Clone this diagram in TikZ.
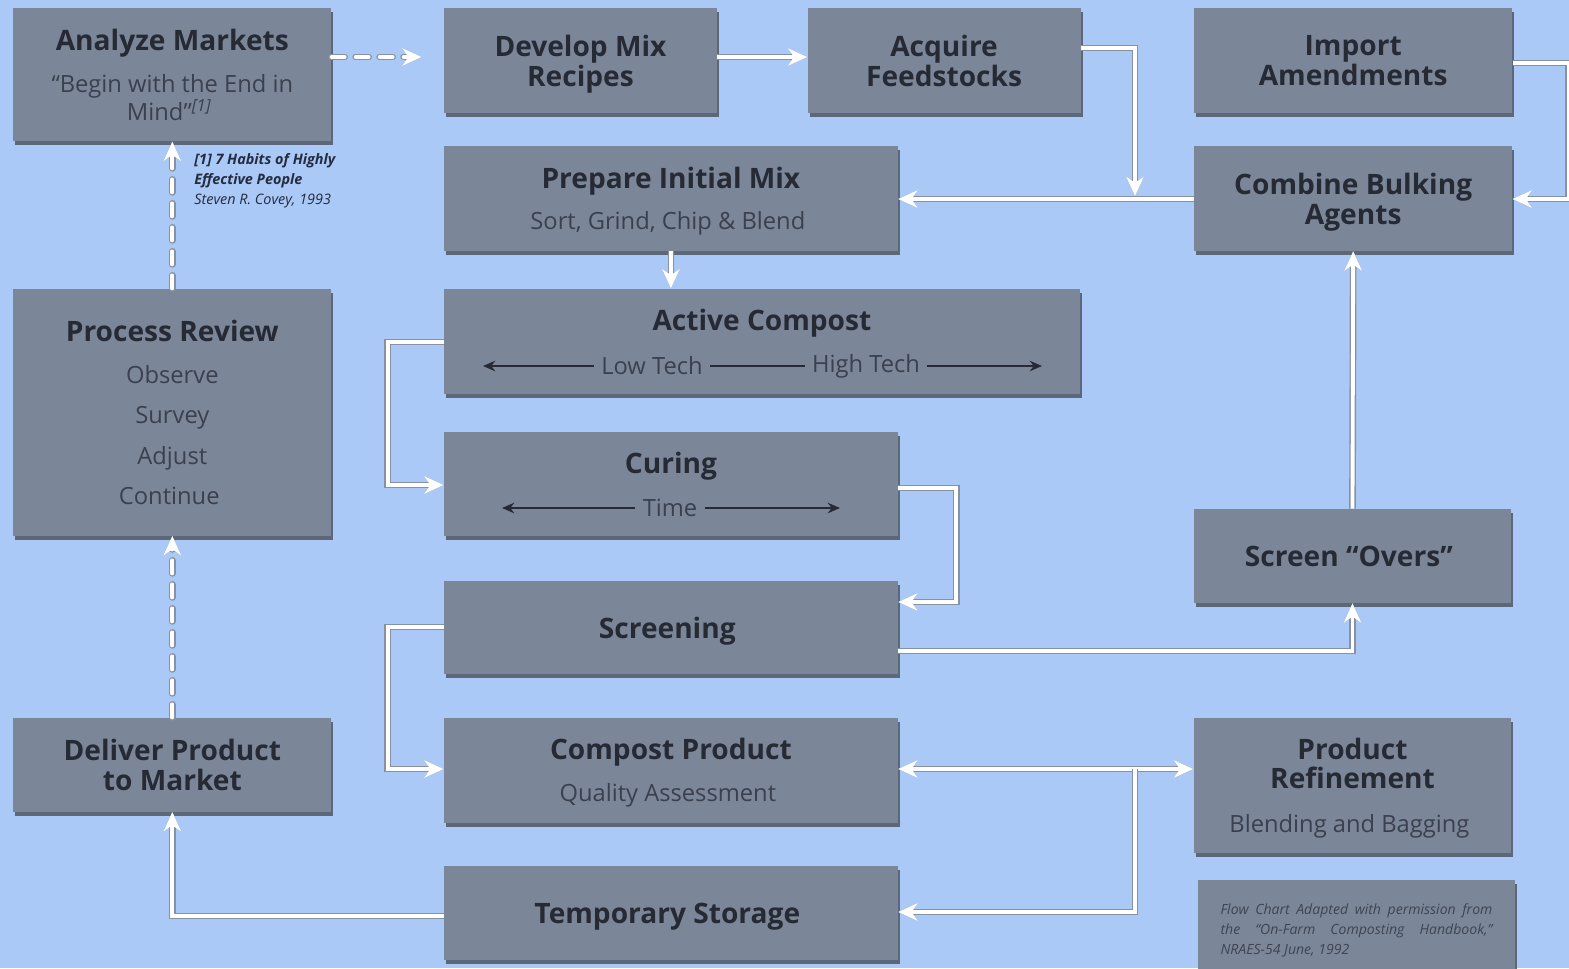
\documentclass[tikz,border=0pt]{standalone}
\usepackage{fontspec}
\setmainfont{Open Sans}
\usetikzlibrary{positioning, arrows.meta, shadows}

\definecolor{bgblue}{RGB}{171,201,246}
\definecolor{boxfill}{RGB}{123,135,153}
\definecolor{boxedge}{RGB}{92,103,121}
\definecolor{titlecol}{RGB}{38,42,52}
\definecolor{subcol}{RGB}{58,64,78}
\definecolor{linegray}{RGB}{135,145,160}
\definecolor{notecol}{RGB}{36,44,64}
\definecolor{creditcol}{RGB}{62,68,82}

\newcommand\boxtitle{\fontsize{16}{17}\selectfont\bfseries}
\newcommand\boxsub{\fontsize{13.5}{16}\selectfont\mdseries\color{subcol}}

\begin{document}
\begin{tikzpicture}[x=0.02cm, y=-0.02cm,
  >={Stealth[length=11pt, width=10pt, inset=3.5pt]},
  procbox/.style={rectangle, fill=boxfill, inner sep=0pt, align=center,
    font=\boxtitle, text=titlecol, text depth=0pt,
    drop shadow={shadow xshift=0.04cm, shadow yshift=-0.08cm, fill=boxedge, opacity=1}},
  conn/.style={->, draw=white, line width=2.2pt,
    preaction={draw=linegray, line width=3.8pt}},
  dashconn/.style={->, draw=white, line width=2.2pt, line cap=round,
    dash pattern=on 0.26cm off 0.22cm,
    preaction={draw=linegray, line width=3.8pt, line cap=round,
      dash pattern=on 0.26cm off 0.22cm}},
  techline/.style={draw=titlecol, line width=0.9pt, -{Stealth[length=7pt, width=6pt]}},
  techlbl/.style={inner xsep=4pt, text=subcol, font=\fontsize{13.5}{16}\selectfont}]

  \useasboundingbox[fill=bgblue] (0,0) rectangle (1569,968);

  % TOP ROW

  \node[procbox, minimum width=6.36cm, minimum height=2.66cm,
    anchor=north west] (analyze) at (13,8) {
    Analyze Markets\\[7pt]
    \boxsub “Begin with the End in\\[-1pt]
    \boxsub Mind”\textsuperscript{\itshape [1]}
  };

  \node[procbox, minimum width=5.46cm, minimum height=2.10cm,
    right=2.24cm of analyze.north east,
    anchor=north west] (develop) {
    Develop Mix\\Recipes
  };

  \node[procbox, minimum width=5.46cm, minimum height=2.10cm,
    right=1.80cm of develop.north east,
    anchor=north west] (acquire) {
    Acquire\\Feedstocks
  };

  \node[procbox, minimum width=6.36cm, minimum height=2.10cm,
    right=2.26cm of acquire.north east,
    anchor=north west] (import) {
    Import\\Amendments
  };

  % MIX

  \node[procbox, minimum width=9.08cm, minimum height=2.10cm,
    below=0.64cm of develop.south west,
    anchor=north west] (prepare) {
    Prepare Initial Mix\\[6.5pt]
    \boxsub Sort, Grind, Chip \& Blend
  };

  \node[procbox, minimum width=6.36cm, minimum height=2.10cm,
    below=0.64cm of import.south west,
    anchor=north west] (combine) {
    Combine Bulking\\Agents
  };

  \node[procbox, minimum width=12.72cm, minimum height=2.10cm,
    below=0.74cm of prepare.south west,
    anchor=north west] (active) {
    Active Compost\\[7.5pt]
    \boxsub\vphantom{Low Tech}
  };

  \node[procbox, minimum width=6.36cm, minimum height=4.94cm,
    left=2.24cm of active.north west,
    anchor=north east] (review) {
    Process Review\\[7pt]
    \boxsub Observe\\[6pt]
    \boxsub Survey\\[6pt]
    \boxsub Adjust\\[6pt]
    \boxsub Continue
  };

  \node[procbox, minimum width=9.08cm, minimum height=2.08cm,
    below=0.76cm of active.south west,
    anchor=north west] (curing) {
    Curing\\[7.5pt]
    \boxsub\vphantom{Time}
  };

  \node[procbox, minimum width=9.08cm, minimum height=1.86cm,
    below=0.88cm of curing.south west,
    anchor=north west] (screening) {
    Screening
  };

  % PRODUCT

  \node[procbox, minimum width=9.08cm, minimum height=2.10cm,
    below=0.86cm of screening.south west,
    anchor=north west] (product) {
    Compost Product\\[7pt]
    \boxsub Quality Assessment
  };

  \node[procbox, minimum width=9.08cm, minimum height=1.88cm,
    below=0.86cm of product.south west,
    anchor=north west] (storage) {
    Temporary Storage
  };

  \node[procbox, minimum width=6.36cm, minimum height=1.88cm,
    left=2.24cm of product.north west,
    anchor=north east] (deliver) {
    Deliver Product\\to Market
  };

  \node[procbox, minimum width=6.36cm, minimum height=2.70cm,
    right=5.90cm of product.north east,
    anchor=north west] (refine) {
    Product\\Refinement\\[8pt]
    \boxsub Blending and Bagging
  };

  \node[procbox, minimum width=6.36cm, minimum height=1.88cm,
    above=2.28cm of refine.north west,
    anchor=south west] (overs) {
    Screen “Overs”
  };

  \node[procbox, minimum width=6.36cm, minimum height=2.0cm,
    inner xsep=0.46cm, text width=5.44cm, align=justify, text depth=,
    font=\fontsize{8}{11.3}\selectfont\itshape, text=creditcol,
    below=0.54cm of refine.south west,
    anchor=north west, xshift=0.08cm] (credit) {
    Flow Chart Adapted with permission from\linebreak
    the “On-Farm Composting Handbook,”\linebreak
    NRAES-54 June, 1992
  };

  \node[anchor=north west, align=left, inner sep=0pt, text=notecol,
    font=\fontsize{8.2}{11.3}\selectfont\itshape] (habits) at (194,153) {
    \bfseries [1] 7 Habits of Highly\\
    \bfseries Effective People\\
    Steven R. Covey, 1993
  };

  % SCALES

  \node[techlbl] (lowtech) at (652,366) {Low Tech};
  \node[techlbl] (hightech) at (866,366) {High Tech};
  \coordinate (techL) at (483,366);
  \coordinate (techR) at (1042,366);
  \draw[techline] (lowtech) -- (techL);
  \draw[techline, -] (lowtech) -- (hightech);
  \draw[techline] (hightech) -- (techR);

  \node[techlbl] (timelbl) at (670,508) {Time};
  \coordinate (timeL) at (502,508);
  \coordinate (timeR) at (840,508);
  \draw[techline] (timelbl) -- (timeL);
  \draw[techline] (timelbl) -- (timeR);

  % FLOW

  \coordinate (feedjoin) at (1135,196);
  \coordinate (prodjoin) at (1135,769);

  \draw[dashconn, shorten >=0.44cm] (analyze.east |- 0,57) -- (develop.west |- 0,57);
  \draw[conn] (develop.east |- 0,57) -- (acquire.west |- 0,57);
  \draw[conn] (combine.west |- 0,199) -- (prepare.east |- 0,199);
  \draw[conn] (acquire.east |- 0,48) -| (feedjoin);
  \draw[conn] (import.east |- 0,63) -- ++(56,0) |- (combine.east |- 0,199);
  \draw[conn] (prepare.south) -- (prepare.south |- active.north);
  \draw[conn] (active.west |- 0,342) -- ++(-56,0) |- (curing.west |- 0,485);
  \draw[conn] (curing.east |- 0,488) -- ++(58,0) |- (screening.east |- 0,602);
  \draw[conn] (screening.east |- 0,651) -| (overs.south);
  \draw[conn] (overs.north) -- (combine.south);
  \draw[conn] (screening.west |- 0,627) -- ++(-56,0) |- (product.west |- 0,769);
  \draw[conn, <->] (product.east |- 0,769) -- (refine.west |- 0,769);
  \draw[conn] (prodjoin) |- (storage.east |- 0,912);
  \draw[conn] (storage.west |- 0,916) -| (deliver.south);
  \draw[dashconn] (deliver.north) -- (review.south);
  \draw[dashconn] (review.north) -- (analyze.south);

\end{tikzpicture}
\end{document}
